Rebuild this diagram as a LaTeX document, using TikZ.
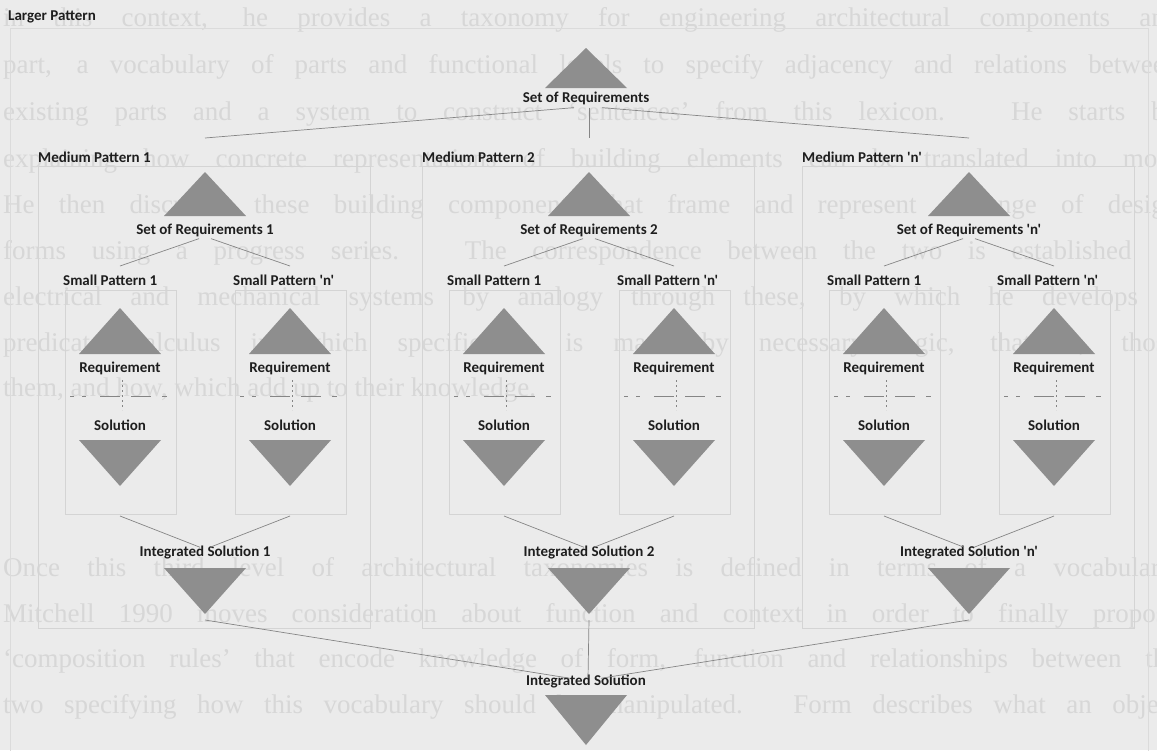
\documentclass[tikz,border=0pt]{standalone}
\usepackage{fontspec}
\setmainfont{Liberation Serif}
\newfontfamily\labfont{Carlito}
\definecolor{bgc}{HTML}{EBEBEB}
\definecolor{bgtc}{HTML}{D7D7D7}
\definecolor{tric}{HTML}{8E8E8E}
\definecolor{linec}{HTML}{858585}
\definecolor{boxc}{HTML}{D4D4D4}
\definecolor{labc}{HTML}{1E1E1E}
\begin{document}
\begin{tikzpicture}[x=1pt,y=-1pt,
  lab/.style={font=\labfont\bfseries\fontsize{15}{17}\selectfont, text=labc, inner sep=0pt},
  tri/.style={fill=tric, draw=none},
  conn/.style={draw=linec, line width=0.7pt},
  pbox/.style={draw=boxc, line width=0.6pt},
  bgtext/.style={font=\fontsize{27}{29}\selectfont, text=bgtc, anchor=west, inner sep=0pt},
  splitline/.style={draw=linec, line width=0.7pt, dash pattern=on 4pt off 8pt on 4pt off 14pt on 20pt off 11pt on 20pt off 11pt on 5pt},
  vdots/.style={draw=linec, line width=0.5pt, dash pattern=on 2pt off 3pt}]
\fill[bgc] (0,0) rectangle (1157,750);
\useasboundingbox (0,0) rectangle (1157,750);
% faint page text behind the figure
\node[bgtext] (t1) at (3,20) {\makebox[1175pt][s]{in this context, he provides a taxonomy for engineering architectural components and}};
\node[bgtext] (t2) at (3,67) {\makebox[1175pt][s]{part, a vocabulary of parts and functional levels to specify adjacency and relations between}};
\node[bgtext] (t3) at (3,114) {\makebox[1175pt][s]{existing parts and a system to construct `sentences' from this lexicon. He starts by}};
\node[bgtext] (t4) at (3,161) {\makebox[1175pt][s]{explaining how concrete representations of building elements can be translated into more}};
\node[bgtext] (t5) at (3,207) {\makebox[1175pt][s]{He then discusses these building components that frame and represent a range of design}};
\node[bgtext] (t6) at (3,253) {\makebox[1175pt][s]{forms using a progress series. The correspondence between the two is established in}};
\node[bgtext] (t7) at (3,299) {\makebox[1175pt][s]{electrical and mechanical systems by analogy through these, by which he develops a}};
\node[bgtext] (t8) at (3,345) {\makebox[1175pt][s]{predicate calculus in which specification is made by necessary logic, that is, those}};
\node[bgtext] (t9) at (3,390) {them, and how, which add up to their knowledge.};
\node[bgtext] (t10) at (3,570) {\makebox[1175pt][s]{Once this third level of architectural taxonomies is defined in terms of a vocabulary,}};
\node[bgtext] (t11) at (3,616) {\makebox[1175pt][s]{Mitchell 1990 moves consideration about function and context in order to finally propose}};
\node[bgtext] (t12) at (3,661) {\makebox[1175pt][s]{`composition rules' that encode knowledge of form, function and relationships between the}};
\node[bgtext] (t13) at (3,707) {\makebox[1175pt][s]{two specifying how this vocabulary should be manipulated. Form describes what an object}};
% larger pattern
\draw[pbox, draw=boxc!70!bgc] (10,28) rectangle (1148,770);
\node[lab, anchor=west] (lp) at (8,17) {Larger Pattern};
\fill[tri] (545,88) -- (586,48) -- (627,88) -- cycle;
\node[lab] (sr) at (586,98) {Set of Requirements};
\node[lab] (isall) at (586,681) {Integrated Solution};
\fill[tri] (545,695) -- (627,695) -- (586,745) -- cycle;
\foreach \cx/\nn/\kk in {205/1/a, 589/2/b, 969/'n'/c}{
  \node[lab, anchor=west] (mp\kk) at (\cx-167,157) {Medium Pattern \nn};
  \draw[pbox] (\cx-167,166) rectangle (\cx+165,628);
  \fill[tri] (\cx-41,216) -- (\cx,172) -- (\cx+41,216) -- cycle;
  \node[lab] (sr\kk) at (\cx,230) {Set of Requirements \nn};
  \coordinate (mt\kk) at (\cx,138);
  \foreach \off/\sn/\ss in {-85/1/A, 85/'n'/B}{
    \node[lab, anchor=west] (sp\ss\kk) at (\cx+\off-57,280) {Small Pattern \sn};
    \draw[pbox] (\cx+\off-55,290) rectangle (\cx+\off+56,514);
    \fill[tri] (\cx+\off-41,354) -- (\cx+\off,308) -- (\cx+\off+41,354) -- cycle;
    \node[lab] (rq\ss\kk) at (\cx+\off,368) {Requirement};
    \coordinate (dl\ss\kk) at (\cx+\off-50,396);
    \coordinate (dr\ss\kk) at (\cx+\off+47,396);
    \draw[splitline] (dl\ss\kk) -- (dr\ss\kk);
    \coordinate (vt\ss\kk) at (\cx+\off+2,380);
    \coordinate (vb\ss\kk) at (\cx+\off+2,410);
    \draw[vdots] (vt\ss\kk) -- (vb\ss\kk);
    \node[lab] (so\ss\kk) at (\cx+\off,425) {Solution};
    \fill[tri] (\cx+\off-41,440) -- (\cx+\off+41,440) -- (\cx+\off,486) -- cycle;
    \coordinate (st\ss\kk) at (\cx+\off,266);
    \coordinate (sb\ss\kk) at (\cx+\off,516);
  }
  \node[lab] (is\kk) at (\cx,552) {Integrated Solution \nn};
  \fill[tri] (\cx-41,568) -- (\cx+41,568) -- (\cx,614) -- cycle;
  \coordinate (ib\kk) at (\cx,620);
  \draw[conn] ([xshift=-6pt,yshift=-2pt]sr\kk.south) -- (stA\kk);
  \draw[conn] ([xshift=6pt,yshift=-2pt]sr\kk.south) -- (stB\kk);
  \draw[conn] (sbA\kk) -- ([xshift=-5pt,yshift=-2pt]is\kk.north);
  \draw[conn] (sbB\kk) -- ([xshift=5pt,yshift=-2pt]is\kk.north);
}
\draw[conn] ([xshift=-12pt,yshift=-3pt]sr.south) -- (mta);
\draw[conn] ([xshift=3pt,yshift=-3pt]sr.south) -- (mtb);
\draw[conn] ([xshift=16pt,yshift=-3pt]sr.south) -- (mtc);
\draw[conn] (iba) -- ([xshift=-16pt,yshift=-4pt]isall.north);
\draw[conn] (ibb) -- ([xshift=2pt,yshift=-4pt]isall.north);
\draw[conn] (ibc) -- ([xshift=15pt,yshift=-4pt]isall.north);
\end{tikzpicture}
\end{document}
